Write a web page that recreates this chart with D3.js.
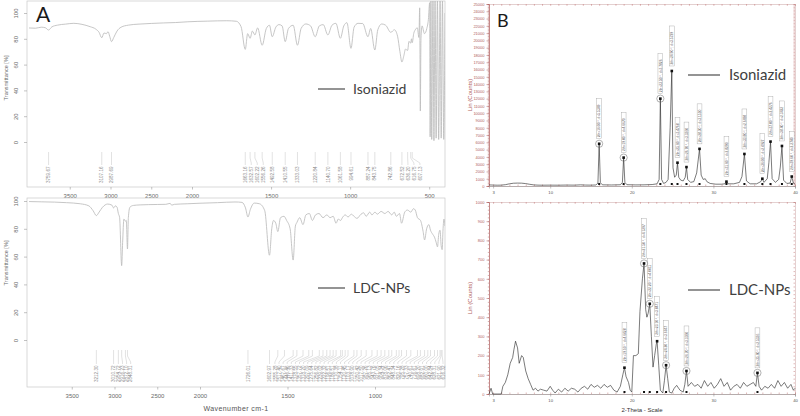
<!DOCTYPE html>
<html lang="en">
<head>
<meta charset="utf-8">
<title>FTIR and XRD: Isoniazid / LDC-NPs</title>
<script src="https://cdn.jsdelivr.net/npm/d3@7/dist/d3.min.js"></script>
<style>
body { margin: 0; background: #fff; }
svg { display: block; font-family: "Liberation Sans", Arial, sans-serif; }
.ftir .axis path, .ftir .axis line { stroke: #9a9a9a; stroke-width: 0.6; }
.ftir .axis text { fill: #6a6a6a; font-size: 6px; }
.frame { fill: none; stroke: #c8c8c8; stroke-width: 0.7; }
.spec { fill: none; stroke: #bcbcbc; stroke-width: 0.85; }
.plab line, .plab path { fill: none; stroke: #c4c4c4; stroke-width: 0.5; }
.plab text { fill: #8a8a8a; font-size: 4.6px; }
.legend text { font-family: Lato, "Open Sans", sans-serif; fill: #404040; }
.legend line { stroke: #5a5a5a; stroke-width: 1.3; }
.xrd .yax path, .xrd .yax line { stroke: #b06060; stroke-width: 0.5; }
.xrd .yax text { fill: #b06060; font-size: 4px; }
.xrd .xax path, .xrd .xax line { stroke: #888; stroke-width: 0.5; }
.xrd .xax text { fill: #555; font-size: 4.2px; }
.xrd .minor path { stroke: #c9a0a0; stroke-width: 0.5; }
.xrd .minor line { stroke: #c07070; stroke-width: 0.5; }
.pattern { fill: none; stroke: #222; stroke-width: 0.6; }
.xlab rect { fill: #fff; stroke: #a0a0a0; stroke-width: 0.4; }
.xlab text { fill: #555; font-size: 3.3px; }
</style>
</head>
<body>
<div id="chart"></div>
<script>

// ---------- FTIR (panel A) ----------
var isoWn = [4000, 3920, 3850, 3800, 3759.67, 3720, 3650, 3550, 3450, 3350, 3250, 3180, 3140, 3107.16, 3080, 3050, 3030, 3010, 2987.69, 2960, 2920, 2870, 2780, 2650, 2500, 2350, 2200, 2050, 1900, 1780, 1720, 1690, 1663.16, 1648, 1632.57, 1618, 1602.22, 1585, 1556.26, 1530, 1510, 1492.58, 1470, 1450, 1430, 1410.55, 1390, 1360, 1333.03, 1310, 1280, 1250, 1220.84, 1195, 1170, 1140.70, 1115, 1090, 1061.58, 1040, 1020, 994.61, 975, 950, 920, 887.24, 870, 843.75, 825, 800, 775, 742.86, 720, 700, 685, 672.52, 660, 650, 636.20, 628, 616.75, 612, 607.13, 598, 588, 575, 565, 560, 556, 552, 545, 530, 515, 505, 497, 494, 489, 484, 476, 470, 463, 456, 448, 440, 431, 424, 416, 408, 400];
var isoT = [88.4, 88.2, 89, 88.6, 86.8, 89.2, 90.6, 91.4, 92, 91.2, 89.4, 87.5, 85, 80.8, 84.5, 84, 85.5, 82, 77.8, 81, 86, 89, 90.6, 91.4, 91.9, 92.3, 92.6, 93.2, 93.7, 94, 93.6, 89.5, 71.8, 84, 80.4, 86, 83, 88.5, 75, 88, 90.5, 81.6, 89, 91, 90, 77.8, 88, 90.5, 75, 88, 91.5, 90, 81.6, 90, 91, 83, 90.5, 92, 80.4, 90, 92.5, 72.6, 89, 92, 91.8, 81.6, 88, 71.3, 87, 91.5, 90.5, 85, 87, 82, 70, 62, 67, 72, 71, 78, 76.6, 80, 77, 84, 87, 88.5, 81, 104, 24, 80, 90, 84, 88, 95, 108, 4, 110, 2, 112, 1, 112, 3, 112, 2, 110, 3, 110, 2, 100];

var ldcWn = [4000, 3850, 3700, 3560, 3400, 3300, 3250, 3212.30, 3180, 3140, 3080, 3030, 3010.72, 2990, 2970, 2954.72, 2940, 2916.23, 2905, 2890, 2872.10, 2862, 2848.31, 2838, 2820, 2780, 2700, 2600, 2500, 2400, 2350, 2330, 2300, 2150, 2000, 1900, 1800, 1760, 1740, 1726.01, 1712, 1690, 1660, 1630, 1602.97, 1590, 1580, 1567, 1555.28, 1540, 1520, 1505, 1485, 1467.67, 1455, 1446.46, 1430, 1411.33, 1395, 1375, 1357.72, 1340, 1320, 1297.09, 1275, 1256.82, 1239.02, 1222.32, 1210, 1196.51, 1186.51, 1170, 1154.11, 1135, 1120, 1103.17, 1080, 1065, 1050.42, 1030, 1017.50, 1000, 987.26, 965, 943.76, 925, 904.34, 890, 878.06, 860, 848.34, 830, 815, 795.28, 780, 770, 757.33, 740, 725, 716.61, 705, 692, 682.91, 670, 660, 650, 642.84, 636, 628.31, 622, 616.32, 611, 606, 600];
var ldcT = [99.6, 99.4, 99.2, 98.8, 98, 96.5, 93, 89.5, 92, 95.5, 97.8, 97, 95, 96.5, 95.5, 91, 88, 53.5, 70, 87, 85.5, 86, 65.5, 88, 95.5, 96.8, 97.2, 97.4, 97.5, 97.6, 98.3, 97, 97.6, 98, 98.4, 98.8, 99.3, 99, 95, 88.5, 94, 98.5, 98, 93, 61, 80, 86, 84, 78, 88, 89, 86, 80, 57.5, 82, 84.5, 88, 83, 90, 91, 86, 90, 91, 88, 90, 88, 89, 84, 87, 86, 88, 90, 88.5, 90.5, 89, 87.5, 90.5, 91.5, 89, 92, 90, 92, 90.5, 92.5, 91, 92.5, 90, 92, 89, 91, 84, 92, 93.5, 92, 94.5, 93.5, 88, 86, 78, 72, 80, 83, 79, 76, 74, 70, 67, 76, 79, 68, 65, 80, 87, 82];

var isoPeakLabels = [3759.67, 3107.16, 2987.69, 1663.16, 1632.57, 1602.22, 1556.26, 1492.58, 1410.55, 1333.03, 1220.84, 1140.70, 1061.58, 994.61, 887.24, 843.75, 742.86, 672.52, 636.20, 616.75, 607.13];
var ldcPeakLabels = [3212.30, 3010.72, 2954.72, 2916.23, 2872.10, 2848.31, 1726.01, 1602.97, 1555.28, 1517.40, 1467.67, 1446.46, 1411.33, 1378.55, 1357.72, 1318.20, 1297.09, 1275.64, 1256.82, 1239.02, 1222.32, 1196.51, 1186.51, 1170.38, 1154.11, 1120.45, 1103.17, 1078.90, 1050.42, 1017.50, 987.26, 965.13, 943.76, 921.05, 904.34, 878.06, 862.47, 848.34, 820.16, 795.28, 757.33, 740.61, 716.61, 698.20, 682.91, 660.00, 642.84, 628.31, 621.90, 616.32];

var ftirYTicks = [0, 20, 40, 60, 80, 100];
var isoXTicks = [3500, 3000, 2500, 2000, 1500, 1000, 500];
var ldcXTicks = [3500, 3000, 2500, 2000, 1500, 1000];

// ---------- XRD (panel B) ----------
var xrdIsoAngle = [2.5, 3, 3.5, 4, 4.5, 5, 5.5, 6, 6.5, 7, 7.5, 8, 8.5, 9, 10, 11, 12, 13, 13.7, 14.3, 15, 15.6, 15.85, 16.0, 16.15, 16.4, 17.5, 18.6, 18.85, 19.0, 19.15, 19.4, 20.5, 21.5, 22.5, 23.1, 23.35, 23.5, 23.65, 23.9, 24.2, 24.45, 24.7, 24.9, 25.05, 25.25, 25.45, 25.6, 25.75, 26.0, 26.3, 26.55, 26.7, 26.85, 27.2, 27.6, 27.95, 28.3, 28.5, 28.75, 29.0, 29.2, 29.6, 30.3, 31.0, 31.4, 31.6, 31.8, 32.5, 33.2, 33.5, 33.8, 34.05, 34.5, 35.3, 35.8, 36.0, 36.2, 36.6, 36.8, 37.0, 37.2, 37.6, 38.0, 38.2, 38.4, 38.6, 39.0, 39.4, 39.6, 39.8, 40];
var xrdIsoCounts = [150, 130, 110, 120, 180, 300, 380, 400, 390, 330, 230, 150, 120, 110, 120, 110, 130, 120, 160, 130, 120, 140, 400, 5800, 450, 160, 140, 170, 500, 3900, 500, 180, 150, 160, 200, 300, 900, 12000, 900, 350, 500, 900, 8000, 15800, 2500, 1200, 1500, 3200, 1200, 800, 700, 1200, 2600, 900, 500, 600, 1800, 5100, 1500, 900, 1000, 600, 350, 250, 250, 300, 600, 300, 300, 500, 1300, 4400, 700, 300, 300, 600, 1000, 500, 1000, 3200, 6100, 1000, 500, 900, 2600, 5500, 800, 350, 400, 1300, 400, 250];

var xrdLdcAngle = [2.5, 2.75, 2.95, 3.2, 3.5, 4.0, 4.2, 4.5, 4.8, 5.1, 5.4, 5.55, 5.75, 6.0, 6.2, 6.5, 6.7, 7.0, 7.3, 7.6, 7.9, 8.2, 8.5, 8.8, 9.2, 9.6, 10, 10.3, 10.6, 11, 11.4, 11.8, 12.2, 12.6, 13, 13.4, 13.8, 14.2, 14.6, 15, 15.4, 15.8, 16.2, 16.6, 17, 17.4, 17.8, 18.2, 18.6, 18.9, 19.1, 19.3, 19.6, 19.8, 20.0, 20.2, 20.5, 20.8, 21.0, 21.3, 21.5, 21.7, 21.85, 22.0, 22.2, 22.4, 22.6, 22.8, 23.0, 23.1, 23.3, 23.5, 23.8, 24.0, 24.2, 24.4, 24.6, 24.9, 25.2, 25.5, 25.9, 26.3, 26.5, 26.7, 26.9, 27.3, 27.7, 28.1, 28.5, 28.9, 29.3, 29.7, 30.1, 30.5, 30.9, 31.3, 31.7, 32.1, 32.5, 32.9, 33.3, 33.7, 34.1, 34.5, 34.9, 35.2, 35.4, 35.6, 35.9, 36.3, 36.7, 37.1, 37.5, 37.9, 38.3, 38.7, 39.1, 39.5, 39.8, 40];
var xrdLdcCounts = [0, 30, 0, 0, 0, 0, 40, 60, 100, 160, 190, 230, 275, 240, 160, 200, 190, 120, 80, 50, 20, 30, 15, 25, 20, 15, 40, 20, 5, 25, 10, 30, 15, 30, 25, 10, 30, 40, 25, 50, 35, 45, 30, 50, 35, 45, 20, 10, 40, 100, 137, 90, 60, 20, 10, 200, 200, 210, 430, 600, 680, 440, 400, 420, 470, 300, 140, 200, 260, 275, 150, 20, 5, 70, 150, 80, 10, 5, 30, 45, 20, 10, 50, 120, 40, 60, 40, 50, 30, 70, 40, 60, 30, 50, 80, 40, 60, 20, 40, 50, 30, 60, 40, 50, 60, 40, 110, 40, 20, 40, 30, 50, 30, 70, 40, 60, 30, 50, 20, 30];

var isoXrdPeaks = [16.0, 19.0, 23.5, 24.9, 25.6, 26.7, 28.3, 31.6, 33.8, 36.0, 37.0, 38.4, 39.6];
var isoXrdCircled = [16.0, 19.0, 23.5];
var isoXrdText = ["2th=16.00 °, d=5.5349", "2th=19.00 °, d=4.6670", "2th=23.50 °, d=3.7826", "2th=24.90 °, d=3.5729", "2th=25.60 °, d=3.4768", "2th=26.70 °, d=3.3360", "2th=28.30 °, d=3.1510", "2th=31.60 °, d=2.8290", "2th=33.80 °, d=2.6498", "2th=36.00 °, d=2.4927", "2th=37.00 °, d=2.4276", "2th=38.40 °, d=2.3422", "2th=39.60 °, d=2.2740"];

var ldcXrdPeaks = [19.1, 21.5, 22.2, 23.1, 24.2, 26.7, 35.4];
var ldcXrdCircled = [21.5, 22.2, 24.2, 26.7, 35.4];
var ldcXrdText = ["2th=19.10 °, d=4.6428", "2th=21.50 °, d=4.1297", "2th=22.20 °, d=4.0011", "2th=23.10 °, d=3.8471", "2th=24.20 °, d=3.6747", "2th=26.70 °, d=3.3360", "2th=35.40 °, d=2.5336"];

var xrdXTicks = [3, 10, 20, 30, 40];
var xrdTopYTicks = [0, 1000, 2000, 3000, 4000, 5000, 6000, 7000, 8000, 9000, 10000, 11000, 12000, 13000, 14000, 15000, 16000, 17000, 18000, 19000, 20000, 21000, 22000, 23000, 24000, 25000];
var xrdBotYTicks = [0, 100, 200, 300, 400, 500, 600, 700, 800, 900, 1000];

var svg = d3.select("#chart").append("svg")
    .attr("width", 800)
    .attr("height", 416);

// ================= Panel A =================
var ftir = svg.append("g").attr("class", "ftir");

function spread(xs, gap, hi) {
    var p = xs.slice();
    for (var i = 1; i < p.length; i++) p[i] = Math.max(p[i], p[i - 1] + gap);
    if (p[p.length - 1] > hi) p[p.length - 1] = hi;
    for (var j = p.length - 2; j >= 0; j--) p[j] = Math.min(p[j], p[j + 1] - gap);
    return p;
}

function drawFtir(cfg) {
    var g = ftir.append("g");
    var x = d3.scaleLinear().domain(cfg.xDomain).range(cfg.xRange);
    var y = d3.scaleLinear().domain([0, 100]).range(cfg.yRange);

    g.append("rect").attr("class", "frame")
        .attr("x", 27).attr("y", cfg.top)
        .attr("width", 445 - 27).attr("height", cfg.bottom - cfg.top);

    var clipId = "clip" + cfg.id;
    g.append("clipPath").attr("id", clipId)
        .append("rect").attr("x", 27).attr("y", cfg.top)
        .attr("width", 418).attr("height", cfg.bottom - cfg.top);

    // y axis, labels turned on their side
    var yAx = g.append("g").attr("class", "axis")
        .attr("transform", "translate(27,0)")
        .call(d3.axisLeft(y).tickValues(ftirYTicks).tickSize(3).tickSizeOuter(0));
    yAx.select(".domain").remove();
    yAx.selectAll(".tick text")
        .attr("transform", "rotate(-90)")
        .attr("x", 0).attr("y", -9).attr("dy", "0")
        .attr("text-anchor", "middle");

    g.append("text")
        .attr("transform", "translate(6," + cfg.yLabel + ") rotate(-90)")
        .attr("text-anchor", "middle")
        .attr("dy", "0.35em")
        .style("font-size", "5.6px").style("fill", "#6a6a6a")
        .text("Transmittance [%]");

    // x axis
    var xAx = g.append("g").attr("class", "axis")
        .attr("transform", "translate(0," + cfg.bottom + ")")
        .call(d3.axisBottom(x).tickValues(cfg.xTicks).tickFormat(d3.format("d"))
            .tickSize(2.5).tickSizeOuter(0));
    xAx.select(".domain").remove();
    xAx.selectAll("text").attr("dy", "0.9em");

    // spectrum
    var pts = cfg.wn.map(function(w, i) { return [w, cfg.t[i]]; });
    g.append("path").attr("class", "spec")
        .attr("clip-path", "url(#" + clipId + ")")
        .attr("d", d3.line()
            .x(function(d) { return x(d[0]); })
            .y(function(d) { return y(d[1]); })
            .curve(d3.curveMonotoneX)(pts));

    // peak labels
    var ideal = cfg.peaks.map(function(w) { return x(w); });
    var pos = spread(ideal, cfg.gap, 443);
    var lab = g.append("g").attr("class", "plab");
    cfg.peaks.forEach(function(w, i) {
        var a = cfg.lab;
        lab.append("path").attr("d",
            "M" + ideal[i] + "," + a[0] + "L" + ideal[i] + "," + a[1] +
            "L" + pos[i] + "," + a[2] + "L" + pos[i] + "," + a[3]);
        lab.append("text")
            .attr("transform", "translate(" + pos[i] + "," + (a[3] + 1.5) + ") rotate(-90)")
            .attr("text-anchor", "end")
            .attr("dy", "0.35em")
            .text(w.toFixed(2));
    });

    // legend
    var lg = g.append("g").attr("class", "legend");
    lg.append("line").attr("x1", 318).attr("x2", 345).attr("y1", cfg.legendY).attr("y2", cfg.legendY);
    lg.append("text").attr("x", 353).attr("y", cfg.legendY).attr("dy", "0.35em")
        .style("font-size", "14px").text(cfg.name);
}

drawFtir({
    id: "iso", name: "Isoniazid", wn: isoWn, t: isoT, peaks: isoPeakLabels,
    xDomain: [4000, 2000, 400], xRange: [29, 192, 445], yRange: [142, 13],
    top: 1, bottom: 187, xTicks: isoXTicks, yLabel: 78, gap: 6,
    lab: [152, 158, 163, 165], legendY: 89
});
drawFtir({
    id: "ldc", name: "LDC-NPs", wn: ldcWn, t: ldcT, peaks: ldcPeakLabels,
    xDomain: [4000, 2000, 600], xRange: [29, 200, 445], yRange: [340, 201],
    top: 198, bottom: 387, xTicks: ldcXTicks, yLabel: 263, gap: 4.1,
    lab: [350, 356, 362, 364], legendY: 288
});

ftir.append("text").attr("x", 236).attr("y", 411)
    .attr("text-anchor", "middle")
    .style("font-size", "7px").style("fill", "#555").style("letter-spacing", "0.4px")
    .text("Wavenumber cm-1");

ftir.append("text").attr("x", 36).attr("y", 22)
    .style("font-family", "Lato, sans-serif").style("font-size", "21px").style("fill", "#1a1a1a")
    .text("A");

// ================= Panel B =================
var xrd = svg.append("g").attr("class", "xrd");
var xx = d3.scaleLinear().domain([2.5, 40]).range([489, 795]);

function drawXrd(cfg) {
    var g = xrd.append("g");
    var y = d3.scaleLinear().domain(cfg.yDomain).range([cfg.bottom, cfg.top]);

    // frame: top and right minor ticks
    g.append("g").attr("class", "minor")
        .attr("transform", "translate(0," + cfg.top + ")")
        .call(d3.axisBottom(xx).ticks(38).tickSize(1.8).tickFormat(""));
    g.append("g").attr("class", "minor")
        .attr("transform", "translate(795,0)")
        .call(d3.axisLeft(y).ticks(cfg.minorY).tickSize(1.5).tickFormat(""));

    // left axis, dense minor then labelled
    g.append("g").attr("class", "yax")
        .attr("transform", "translate(489,0)")
        .call(d3.axisLeft(y).ticks(cfg.minorY).tickSize(1.2).tickFormat(""));
    g.append("g").attr("class", "yax")
        .attr("transform", "translate(489,0)")
        .call(d3.axisLeft(y).tickValues(cfg.yTicks).tickFormat(d3.format("d"))
            .tickSize(2.5).tickPadding(2));

    g.append("text")
        .attr("transform", "translate(472," + ((cfg.top + cfg.bottom) / 2) + ") rotate(-90)")
        .attr("text-anchor", "middle")
        .style("font-size", "6px").style("fill", "#b06060")
        .text("Lin (Counts)");

    // bottom axis
    g.append("g").attr("class", "minor")
        .attr("transform", "translate(0," + cfg.bottom + ")")
        .call(d3.axisTop(xx).ticks(38).tickSize(1.5).tickFormat(""));
    g.append("g").attr("class", "xax")
        .attr("transform", "translate(0," + cfg.bottom + ")")
        .call(d3.axisBottom(xx).tickValues(xrdXTicks).tickSize(2.5).tickPadding(3));

    // pattern
    var pts = cfg.angle.map(function(a, i) { return [a, cfg.counts[i]]; });
    g.append("path").attr("class", "pattern")
        .attr("d", d3.line()
            .x(function(d) { return xx(d[0]); })
            .y(function(d) { return y(d[1]); })(pts));

    // peak markers and labels
    var lab = g.append("g").attr("class", "xlab");
    cfg.peaks.forEach(function(p, i) {
        var c = cfg.counts[cfg.angle.indexOf(p)];
        var px = xx(p), py = y(c);
        g.append("rect").attr("x", px - 1.3).attr("y", py - 1.3)
            .attr("width", 2.6).attr("height", 2.6).attr("fill", "#111");
        g.append("rect").attr("x", px - 1).attr("y", y(0) - 3)
            .attr("width", 2).attr("height", 2).attr("fill", "#111");
        if (cfg.circled.indexOf(p) >= 0) {
            g.append("circle").attr("cx", px).attr("cy", py).attr("r", 3.6)
                .attr("fill", "none").attr("stroke", "#666").attr("stroke-width", 0.5);
        }
        var top = py - 5 - cfg.boxH;
        lab.append("rect").attr("x", px - 2.4).attr("y", top)
            .attr("width", 4.8).attr("height", cfg.boxH);
        lab.append("text")
            .attr("transform", "translate(" + px + "," + (py - 6.5) + ") rotate(-90)")
            .attr("dy", "0.35em")
            .text(cfg.text[i]);
    });

    var lg = g.append("g").attr("class", "legend");
    lg.append("line").attr("x1", 688).attr("x2", 720).attr("y1", cfg.legendY).attr("y2", cfg.legendY);
    lg.append("text").attr("x", 729).attr("y", cfg.legendY).attr("dy", "0.35em")
        .style("font-size", "15px").text(cfg.name);
}

drawXrd({
    name: "Isoniazid", angle: xrdIsoAngle, counts: xrdIsoCounts,
    peaks: isoXrdPeaks, circled: isoXrdCircled, text: isoXrdText,
    yDomain: [0, 25000], yTicks: xrdTopYTicks, minorY: 125,
    top: 4, bottom: 186, boxH: 40, legendY: 75
});
drawXrd({
    name: "LDC-NPs", angle: xrdLdcAngle, counts: xrdLdcCounts,
    peaks: ldcXrdPeaks, circled: ldcXrdCircled, text: ldcXrdText,
    yDomain: [0, 1000], yTicks: xrdBotYTicks, minorY: 50,
    top: 202, bottom: 394, boxH: 40, legendY: 290
});

xrd.append("text").attr("x", 642).attr("y", 412)
    .attr("text-anchor", "middle")
    .style("font-size", "6px").style("fill", "#333")
    .text("2-Theta - Scale");

xrd.append("text").attr("x", 497).attr("y", 27)
    .style("font-family", "Lato, sans-serif").style("font-size", "18px").style("fill", "#1a1a1a")
    .text("B");

</script>
</body>
</html>
